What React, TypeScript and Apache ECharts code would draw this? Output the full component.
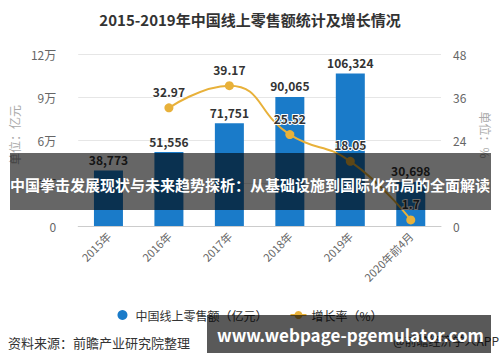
import React, { useEffect, useRef } from "react";
import * as echarts from "echarts";

const categories = ["2015年", "2016年", "2017年", "2018年", "2019年", "2020年前4月"];
const salesValues = [38773, 51556, 71751, 90065, 106324, 30698];
const growthValues: (number | string)[] = ["-", 32.97, 39.17, 25.52, 18.05, 1.7];

const FONT = "'Noto Sans CJK SC', 'Noto Sans', sans-serif";

export default function App() {
  const ref = useRef<HTMLDivElement>(null);
  useEffect(() => {
    if (!ref.current) return;
    const chart = echarts.init(ref.current, undefined, { renderer: "svg" });
    chart.setOption({
      animation: false,
      textStyle: { fontFamily: FONT },
      title: {
        text: "2015-2019年中国线上零售额统计及增长情况",
        left: "center",
        top: 7,
        textStyle: { fontSize: 15, fontWeight: "bold", color: "#333", fontFamily: FONT },
      },
      legend: {
        top: 304,
        left: "center",
        itemGap: 22,
        itemWidth: 16,
        itemHeight: 10,
        textStyle: { fontSize: 12, color: "#333", fontFamily: FONT },
        data: [
          { name: "中国线上零售额（亿元）", icon: "circle" },
          { name: "增长率（%）" },
        ],
      },
      grid: { left: 70, right: 57, top: 54, bottom: 136 },
      xAxis: {
        type: "category",
        data: categories,
        axisLine: { lineStyle: { color: "#ccc" } },
        axisTick: { alignWithLabel: true, lineStyle: { color: "#ccc" } },
        axisLabel: { rotate: 45, color: "#666", fontSize: 11, fontFamily: FONT, margin: 8 },
      },
      yAxis: [
        {
          type: "value",
          min: 0,
          max: 120000,
          interval: 30000,
          name: "单位：亿元",
          nameLocation: "middle",
          nameGap: 55,
          nameTextStyle: { color: "#aaa", fontSize: 12, fontFamily: FONT, padding: [0, 0, 0, 10] },
          axisLine: { show: false },
          axisTick: { show: false },
          splitLine: { lineStyle: { color: "#e6e6e6" } },
          axisLabel: {
            color: "#666",
            fontSize: 12,
            margin: 22,
            fontFamily: FONT,
            formatter: (v: number) => (v === 0 ? "0" : v / 10000 + "万"),
          },
        },
        {
          type: "value",
          min: 0,
          max: 48,
          interval: 12,
          name: "单位：%",
          nameLocation: "middle",
          nameGap: 39,
          nameRotate: -90,
          nameTextStyle: { color: "#aaa", fontSize: 12, fontFamily: FONT, padding: [0, 10, 0, 0] },
          axisLine: { show: false },
          axisTick: { show: false },
          splitLine: { show: false },
          axisLabel: { color: "#666", fontSize: 12, margin: 12, fontFamily: FONT },
        },
      ],
      series: [
        {
          name: "中国线上零售额（亿元）",
          type: "bar",
          data: salesValues,
          barWidth: 29,
          itemStyle: { color: "#1a7bc9" },
          label: {
            show: true,
            position: "top",
            color: "#333",
            fontWeight: "bold",
            fontSize: 12,
            fontFamily: FONT,
            formatter: (p: any) => Number(p.value).toLocaleString("en-US"),
          },
        },
        {
          name: "增长率（%）",
          type: "line",
          yAxisIndex: 1,
          data: growthValues,
          smooth: true,
          symbol: "circle",
          symbolSize: 9,
          lineStyle: { color: "#e8b13a", width: 2 },
          itemStyle: { color: "#e8b13a" },
          label: {
            show: true,
            position: "top",
            distance: 6,
            color: "#333",
            fontWeight: "bold",
            fontSize: 12,
            fontFamily: FONT,
            textBorderColor: "#fff",
            textBorderWidth: 2,
          },
          z: 3,
        },
      ],
      graphic: [
        {
          type: "rect",
          shape: { x: 10, y: 153, width: 481, height: 57 },
          style: { fill: "rgba(0,0,0,0.6)" },
          z: 100,
        },
        {
          type: "text",
          x: 250,
          y: 184,
          style: {
            text: "中国拳击发展现状与未来趋势探析：从基础设施到国际化布局的全面解读",
            fill: "#fff",
            fontSize: 15,
            fontWeight: "bold",
            fontFamily: FONT,
            align: "center",
            verticalAlign: "middle",
          },
          z: 101,
        },
        {
          type: "text",
          x: 8,
          y: 342,
          style: {
            text: "资料来源：前瞻产业研究院整理",
            fill: "#333",
            fontSize: 13,
            fontFamily: FONT,
            verticalAlign: "middle",
          },
        },
        {
          type: "text",
          x: 499,
          y: 340,
          style: {
            text: "@前瞻经济学人APP",
            fill: "#333",
            fontSize: 12,
            fontFamily: FONT,
            align: "right",
            verticalAlign: "middle",
          },
        },
        {
          type: "rect",
          shape: { x: 207, y: 315, width: 284, height: 38 },
          style: { fill: "rgba(0,0,0,0.65)" },
          z: 100,
        },
        {
          type: "text",
          x: 217,
          y: 334,
          style: {
            text: "www.webpage-pgemulator.com",
            fill: "#fff",
            fontSize: 17,
            fontWeight: "bold",
            fontFamily: FONT,
            verticalAlign: "middle",
          },
          z: 101,
        },
      ],
    });
    return () => chart.dispose();
  }, []);
  return (
    <div
      ref={ref}
      style={{ position: "fixed", left: 0, top: 0, width: 500, height: 362, background: "#fff" }}
    />
  );
}
